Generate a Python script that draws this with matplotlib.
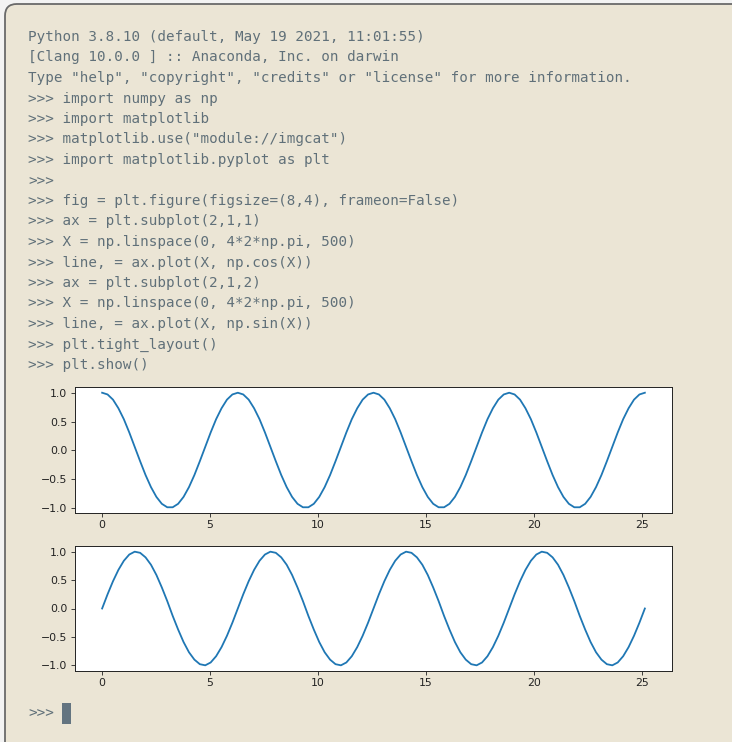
import numpy as np
import matplotlib
matplotlib.use("Agg")
import matplotlib.pyplot as plt
from matplotlib.patches import FancyBboxPatch, Rectangle

# 终端里显示的文字
console_lines = [
    'Python 3.8.10 (default, May 19 2021, 11:01:55)',
    '[Clang 10.0.0 ] :: Anaconda, Inc. on darwin',
    'Type "help", "copyright", "credits" or "license" for more information.',
    '>>> import numpy as np',
    '>>> import matplotlib',
    '>>> matplotlib.use("module://imgcat")',
    '>>> import matplotlib.pyplot as plt',
    '>>>',
    '>>> fig = plt.figure(figsize=(8,4), frameon=False)',
    '>>> ax = plt.subplot(2,1,1)',
    '>>> X = np.linspace(0, 4*2*np.pi, 500)',
    '>>> line, = ax.plot(X, np.cos(X))',
    '>>> ax = plt.subplot(2,1,2)',
    '>>> X = np.linspace(0, 4*2*np.pi, 500)',
    '>>> line, = ax.plot(X, np.sin(X))',
    '>>> plt.tight_layout()',
    '>>> plt.show()',
]
prompt_text = '>>>'

# 曲线数值 (x 从 0 到 25.13 均匀取样)
x_end = 25.13
cos_vals = [
    1.00, 0.97, 0.88, 0.73, 0.54, 0.31, 0.06, -0.19, -0.43, -0.64, -0.81, -0.93, -0.99,
    -0.99, -0.93, -0.81, -0.64, -0.43, -0.19, 0.06, 0.31, 0.54, 0.73, 0.88, 0.97,
    1.00, 0.97, 0.88, 0.73, 0.54, 0.31, 0.06, -0.19, -0.43, -0.64, -0.81, -0.93, -0.99,
    -0.99, -0.93, -0.81, -0.64, -0.43, -0.19, 0.06, 0.31, 0.54, 0.73, 0.88, 0.97,
    1.00, 0.97, 0.88, 0.73, 0.54, 0.31, 0.06, -0.19, -0.43, -0.64, -0.81, -0.93, -0.99,
    -0.99, -0.93, -0.81, -0.64, -0.43, -0.19, 0.06, 0.31, 0.54, 0.73, 0.88, 0.97,
    1.00, 0.97, 0.88, 0.73, 0.54, 0.31, 0.06, -0.19, -0.43, -0.64, -0.81, -0.93, -0.99,
    -0.99, -0.93, -0.81, -0.64, -0.43, -0.19, 0.06, 0.31, 0.54, 0.73, 0.88, 0.97,
    1.00,
]
sin_vals = [
    0.00, 0.25, 0.48, 0.68, 0.84, 0.95, 1.00, 0.98, 0.90, 0.77, 0.59, 0.37, 0.13,
    -0.13, -0.37, -0.59, -0.77, -0.90, -0.98, -1.00, -0.95, -0.84, -0.68, -0.48, -0.25,
    0.00, 0.25, 0.48, 0.68, 0.84, 0.95, 1.00, 0.98, 0.90, 0.77, 0.59, 0.37, 0.13,
    -0.13, -0.37, -0.59, -0.77, -0.90, -0.98, -1.00, -0.95, -0.84, -0.68, -0.48, -0.25,
    0.00, 0.25, 0.48, 0.68, 0.84, 0.95, 1.00, 0.98, 0.90, 0.77, 0.59, 0.37, 0.13,
    -0.13, -0.37, -0.59, -0.77, -0.90, -0.98, -1.00, -0.95, -0.84, -0.68, -0.48, -0.25,
    0.00, 0.25, 0.48, 0.68, 0.84, 0.95, 1.00, 0.98, 0.90, 0.77, 0.59, 0.37, 0.13,
    -0.13, -0.37, -0.59, -0.77, -0.90, -0.98, -1.00, -0.95, -0.84, -0.68, -0.48, -0.25,
    0.00,
]
x_vals = np.linspace(0, x_end, len(cos_vals))

W, H = 732, 742
BG = '#ebe5d5'
TXT = '#607079'

fig = plt.figure(figsize=(W / 100, H / 100), dpi=100, facecolor='#f3f3f3')


def fx(px):
    return px / W


def fy(py):
    return 1 - py / H


# 终端窗口
win = FancyBboxPatch((fx(5), fy(760)), fx(760), fy(4) - fy(760),
                     boxstyle='round,pad=0,rounding_size=0.016',
                     transform=fig.transFigure, facecolor=BG,
                     edgecolor='#6a6a6a', linewidth=1.3, zorder=0)
fig.patches.append(win)

for i, s in enumerate(console_lines):
    fig.text(fx(28), fy(37 + i * 20.5), s, family='DejaVu Sans Mono',
             fontsize=10.3, color=TXT, va='center', ha='left')

fig.text(fx(28), fy(713), prompt_text, family='DejaVu Sans Mono',
         fontsize=10.3, color=TXT, va='center', ha='left')
fig.patches.append(Rectangle((fx(61.5), fy(723.5)), fx(9), 21 / H,
                             transform=fig.transFigure, facecolor='#637480',
                             edgecolor='none'))


def style_ax(ax):
    ax.set_zorder(3)
    ax.set_facecolor('white')
    for sp in ax.spines.values():
        sp.set_linewidth(0.7)
        sp.set_color('#222222')
    ax.tick_params(labelsize=7.8, length=2.7, width=0.6, pad=2.7,
                   colors='#222222')
    ax.set_yticks([-1.0, -0.5, 0.0, 0.5, 1.0])
    ax.set_xticks([0, 5, 10, 15, 20, 25])


ax1 = fig.add_axes([fx(75), fy(513), fx(672) - fx(75), fy(387) - fy(513)])
ax1.plot(x_vals, cos_vals, color='#1f77b4', linewidth=1.3)
style_ax(ax1)

ax2 = fig.add_axes([fx(75), fy(671), fx(672) - fx(75), fy(546) - fy(671)])
ax2.plot(x_vals, sin_vals, color='#1f77b4', linewidth=1.3)
style_ax(ax2)

fig.savefig('out.png', dpi=100, facecolor=fig.get_facecolor())
